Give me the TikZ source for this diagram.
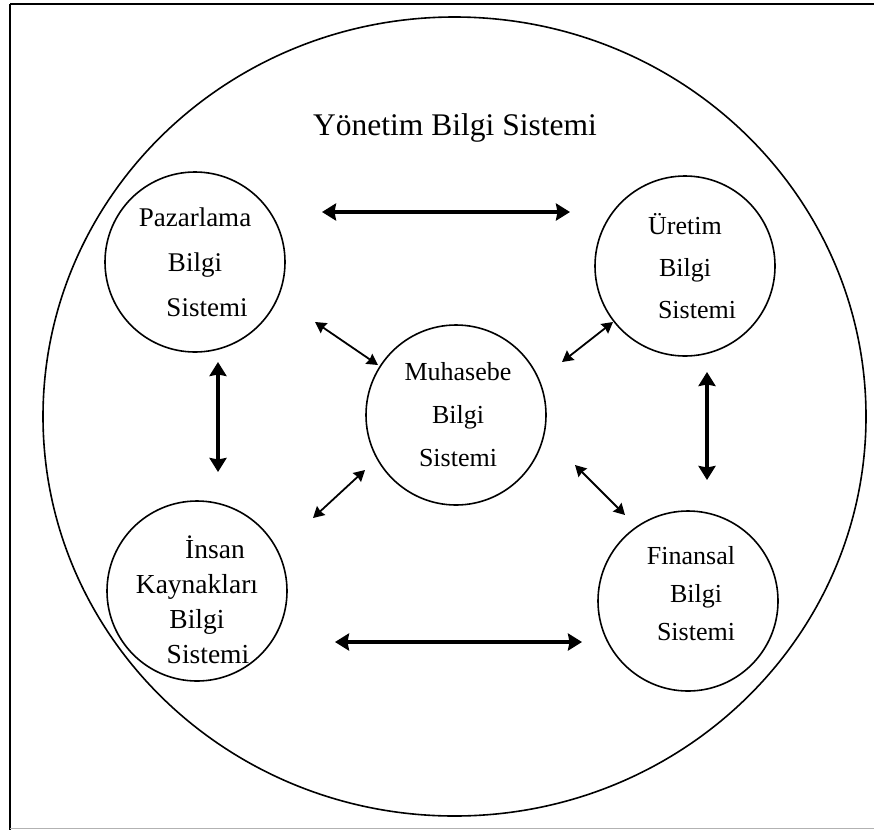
\documentclass[tikz,border=0pt]{standalone}
\usepackage{fontspec}
\setmainfont{Liberation Serif}
\usetikzlibrary{arrows.meta,calc}
\begin{document}
\begin{tikzpicture}[x=1pt,y=-1pt,
  sys/.style={draw,line width=1.6pt,circle,minimum size=180pt,inner sep=0pt},
  systext/.style={align=center,inner sep=0pt},
  bigarrow/.style={line width=3.8pt,{Stealth[length=14pt,width=17pt,inset=1.5pt]}-{Stealth[length=14pt,width=17pt,inset=1.5pt]}},
  smallarrow/.style={line width=1.8pt,{Stealth[length=11pt,width=12pt,inset=1pt]}-{Stealth[length=11pt,width=12pt,inset=1pt]}}]
\useasboundingbox (0,0) rectangle (874,830);
% frame
\draw[line width=2pt] (10,4) -- (874,4);
\draw[line width=2pt] (10,4) -- (10,830);
\draw[line width=1.5pt,gray!60] (10,828.5) -- (874,828.5);
% outer circle
\draw[line width=1.6pt] (454.5,416.5) ellipse [x radius=411.5, y radius=399.5];
\node[font=\fontsize{31.5}{36}\selectfont] (title) at (455,128) {Yönetim Bilgi Sistemi};
% systems
\node[sys] (paz) at (195,262) {};
\node[sys] (ure) at (685,266) {};
\node[sys] (muh) at (456,415) {};
\node[sys] (ins) at (197,591) {};
\node[sys] (fin) at (688,601) {};
\node[systext,font=\fontsize{27}{45}\selectfont] (pazt) at ($(paz)+(0,0)$)
  {Pazarlama\\Bilgi\\\hspace*{24pt}Sistemi};
\node[systext,font=\fontsize{26}{42}\selectfont] (uret) at ($(ure)+(0,0)$)
  {Üretim\\Bilgi\\\hspace*{24pt}Sistemi};
\node[systext,font=\fontsize{26}{43}\selectfont] (muht) at ($(muh)+(2,0)$)
  {Muhasebe\\Bilgi\\Sistemi};
\node[systext,font=\fontsize{27.5}{35}\selectfont] (inst) at ($(ins)+(0,9)$)
  {\hspace*{36pt}İnsan\\Kaynakları\\Bilgi\\\hspace*{22pt}Sistemi};
\node[systext,font=\fontsize{26}{38}\selectfont] (fint) at ($(fin)+(3,-7)$)
  {Finansal\\\hspace*{10pt}Bilgi\\\hspace*{10pt}Sistemi};
% arrow ends
\coordinate (t1) at (322,212); \coordinate (t2) at (570,212);
\coordinate (b1) at (335,642); \coordinate (b2) at (582,642);
\coordinate (l1) at (218,362); \coordinate (l2) at (218,472);
\coordinate (r1) at (707,372); \coordinate (r2) at (707,480);
\coordinate (d1) at (315,322); \coordinate (d2) at (378,365);
\coordinate (d3) at (613,322); \coordinate (d4) at (562,362);
\coordinate (d5) at (365,470); \coordinate (d6) at (313,518);
\coordinate (d7) at (575,465); \coordinate (d8) at (625,515);
\draw[bigarrow] (t1) -- (t2);
\draw[bigarrow] (b1) -- (b2);
\draw[bigarrow] (l1) -- (l2);
\draw[bigarrow] (r1) -- (r2);
\draw[smallarrow] (d1) -- (d2);
\draw[smallarrow] (d3) -- (d4);
\draw[smallarrow] (d5) -- (d6);
\draw[smallarrow] (d7) -- (d8);
\end{tikzpicture}
\end{document}
